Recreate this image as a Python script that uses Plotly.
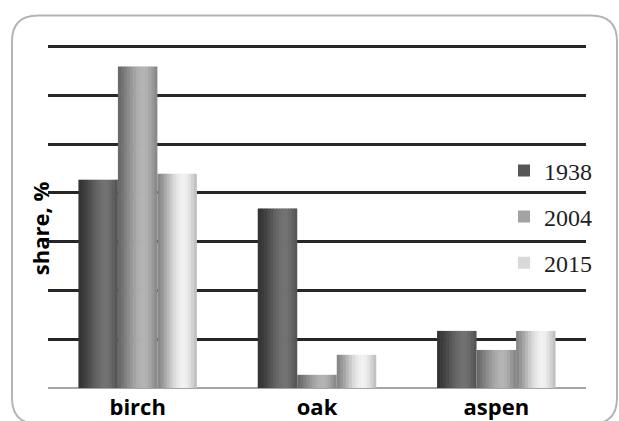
import plotly.graph_objects as go

# ---- data ----
categories = ["birch", "oak", "aspen"]
years = ["1938", "2004", "2015"]
share_1938 = [42.7, 36.8, 11.7]
share_2004 = [65.9, 2.7, 7.8]
share_2015 = [43.9, 6.8, 11.7]
y_ticks = [0, 10, 20, 30, 40, 50, 60, 70]

series = [share_1938, share_2004, share_2015]

# ---- style ----
legend_colors = ["#565656", "#a3a3a3", "#d9d9d9"]
# horizontal shading profiles (left -> right) to imitate the cylinder-like gradient
profiles = [
    [0x34, 0x3a, 0x42, 0x4c, 0x56, 0x60, 0x68, 0x6e, 0x72, 0x71, 0x6a, 0x60, 0x56],
    [0x6a, 0x74, 0x80, 0x8c, 0x98, 0xa3, 0xac, 0xb2, 0xb4, 0xb0, 0xa6, 0x98, 0x8a],
    [0x88, 0x96, 0xa6, 0xb8, 0xca, 0xda, 0xe6, 0xee, 0xf2, 0xee, 0xe2, 0xd2, 0xc2],
]
bar_w = 0.2203
offsets = [-1.5 * bar_w, -0.5 * bar_w, 0.5 * bar_w]
N = len(profiles[0])

fig = go.Figure()
for s, (yr, vals) in enumerate(zip(years, series)):
    # legend-only proxy
    fig.add_trace(go.Bar(
        x=categories, y=[None] * len(categories), name=yr,
        marker=dict(color=legend_colors[s], line=dict(width=0)),
        legendgroup=yr, showlegend=True, hoverinfo="skip",
    ))
    for k in range(N):
        g = profiles[s][k]
        col = "#%02x%02x%02x" % (g, g, g)
        sw = bar_w / N
        fig.add_trace(go.Bar(
            x=categories, y=vals,
            offset=offsets[s] + k * sw,
            width=sw + (0.004 if k < N - 1 else 0),
            marker=dict(color=col, line=dict(width=0)),
            legendgroup=yr, showlegend=False, name=yr,
        ))

# plot area in pixels (value 70 sits at y=46, value 0 at y=388)
Y_MAX = 70.5
PL, PR, PB = 48, 586, 388
PT = PB - (PB - 46) * Y_MAX / 70.0

def px(x):
    return (x - PL) / (PR - PL)
def py(y):
    return (PB - y) / (PB - PT)

L, R, T, B, r = 12, 617, 15, 424, 26
path = (
    f"M {px(L + r)},{py(T)} L {px(R - r)},{py(T)} Q {px(R)},{py(T)} {px(R)},{py(T + r)} "
    f"L {px(R)},{py(B - r)} Q {px(R)},{py(B)} {px(R - r)},{py(B)} "
    f"L {px(L + r)},{py(B)} Q {px(L)},{py(B)} {px(L)},{py(B - r)} "
    f"L {px(L)},{py(T + r)} Q {px(L)},{py(T)} {px(L + r)},{py(T)} Z"
)

fig.update_layout(
    width=619, height=421,
    margin=dict(l=PL, r=619 - PR, t=PT, b=421 - PB, pad=0, autoexpand=False),
    paper_bgcolor="white", plot_bgcolor="white",
    barmode="overlay",
    showlegend=True,
    legend=dict(
        x=px(504), y=py(148), xanchor="left", yanchor="top",
        bgcolor="rgba(0,0,0,0)", borderwidth=0,
        font=dict(family="Liberation Serif", size=24, color="#1f1f1f"),
        tracegroupgap=12, traceorder="grouped",
    ),
    xaxis=dict(
        showgrid=False, showline=False, ticks="", automargin=False,
        tickfont=dict(family="Open Sans", size=22, color="black", weight="bold"),
        range=[-0.5, 2.5], ticklabelstandoff=4,
    ),
    yaxis=dict(
        range=[0, Y_MAX], tickvals=y_ticks, showticklabels=False, ticks="",
        automargin=False,
        showgrid=True, gridcolor="#262626", gridwidth=2.5,
        zeroline=True, zerolinecolor="#a6a6a6", zerolinewidth=2,
        showline=False,
    ),
    shapes=[dict(type="path", xref="paper", yref="paper", path=path,
                 line=dict(color="#b4b4b4", width=2), fillcolor="rgba(0,0,0,0)",
                 layer="above")],
    annotations=[dict(
        text="share, %", xref="paper", yref="paper",
        x=px(40), y=py(228), xanchor="center", yanchor="middle",
        textangle=-90, showarrow=False,
        font=dict(family="Open Sans", size=22, color="black", weight="bold"),
    )],
)

fig.write_html("out.html", config={"displayModeBar": False},
               post_script="document.body.style.margin='0';")
